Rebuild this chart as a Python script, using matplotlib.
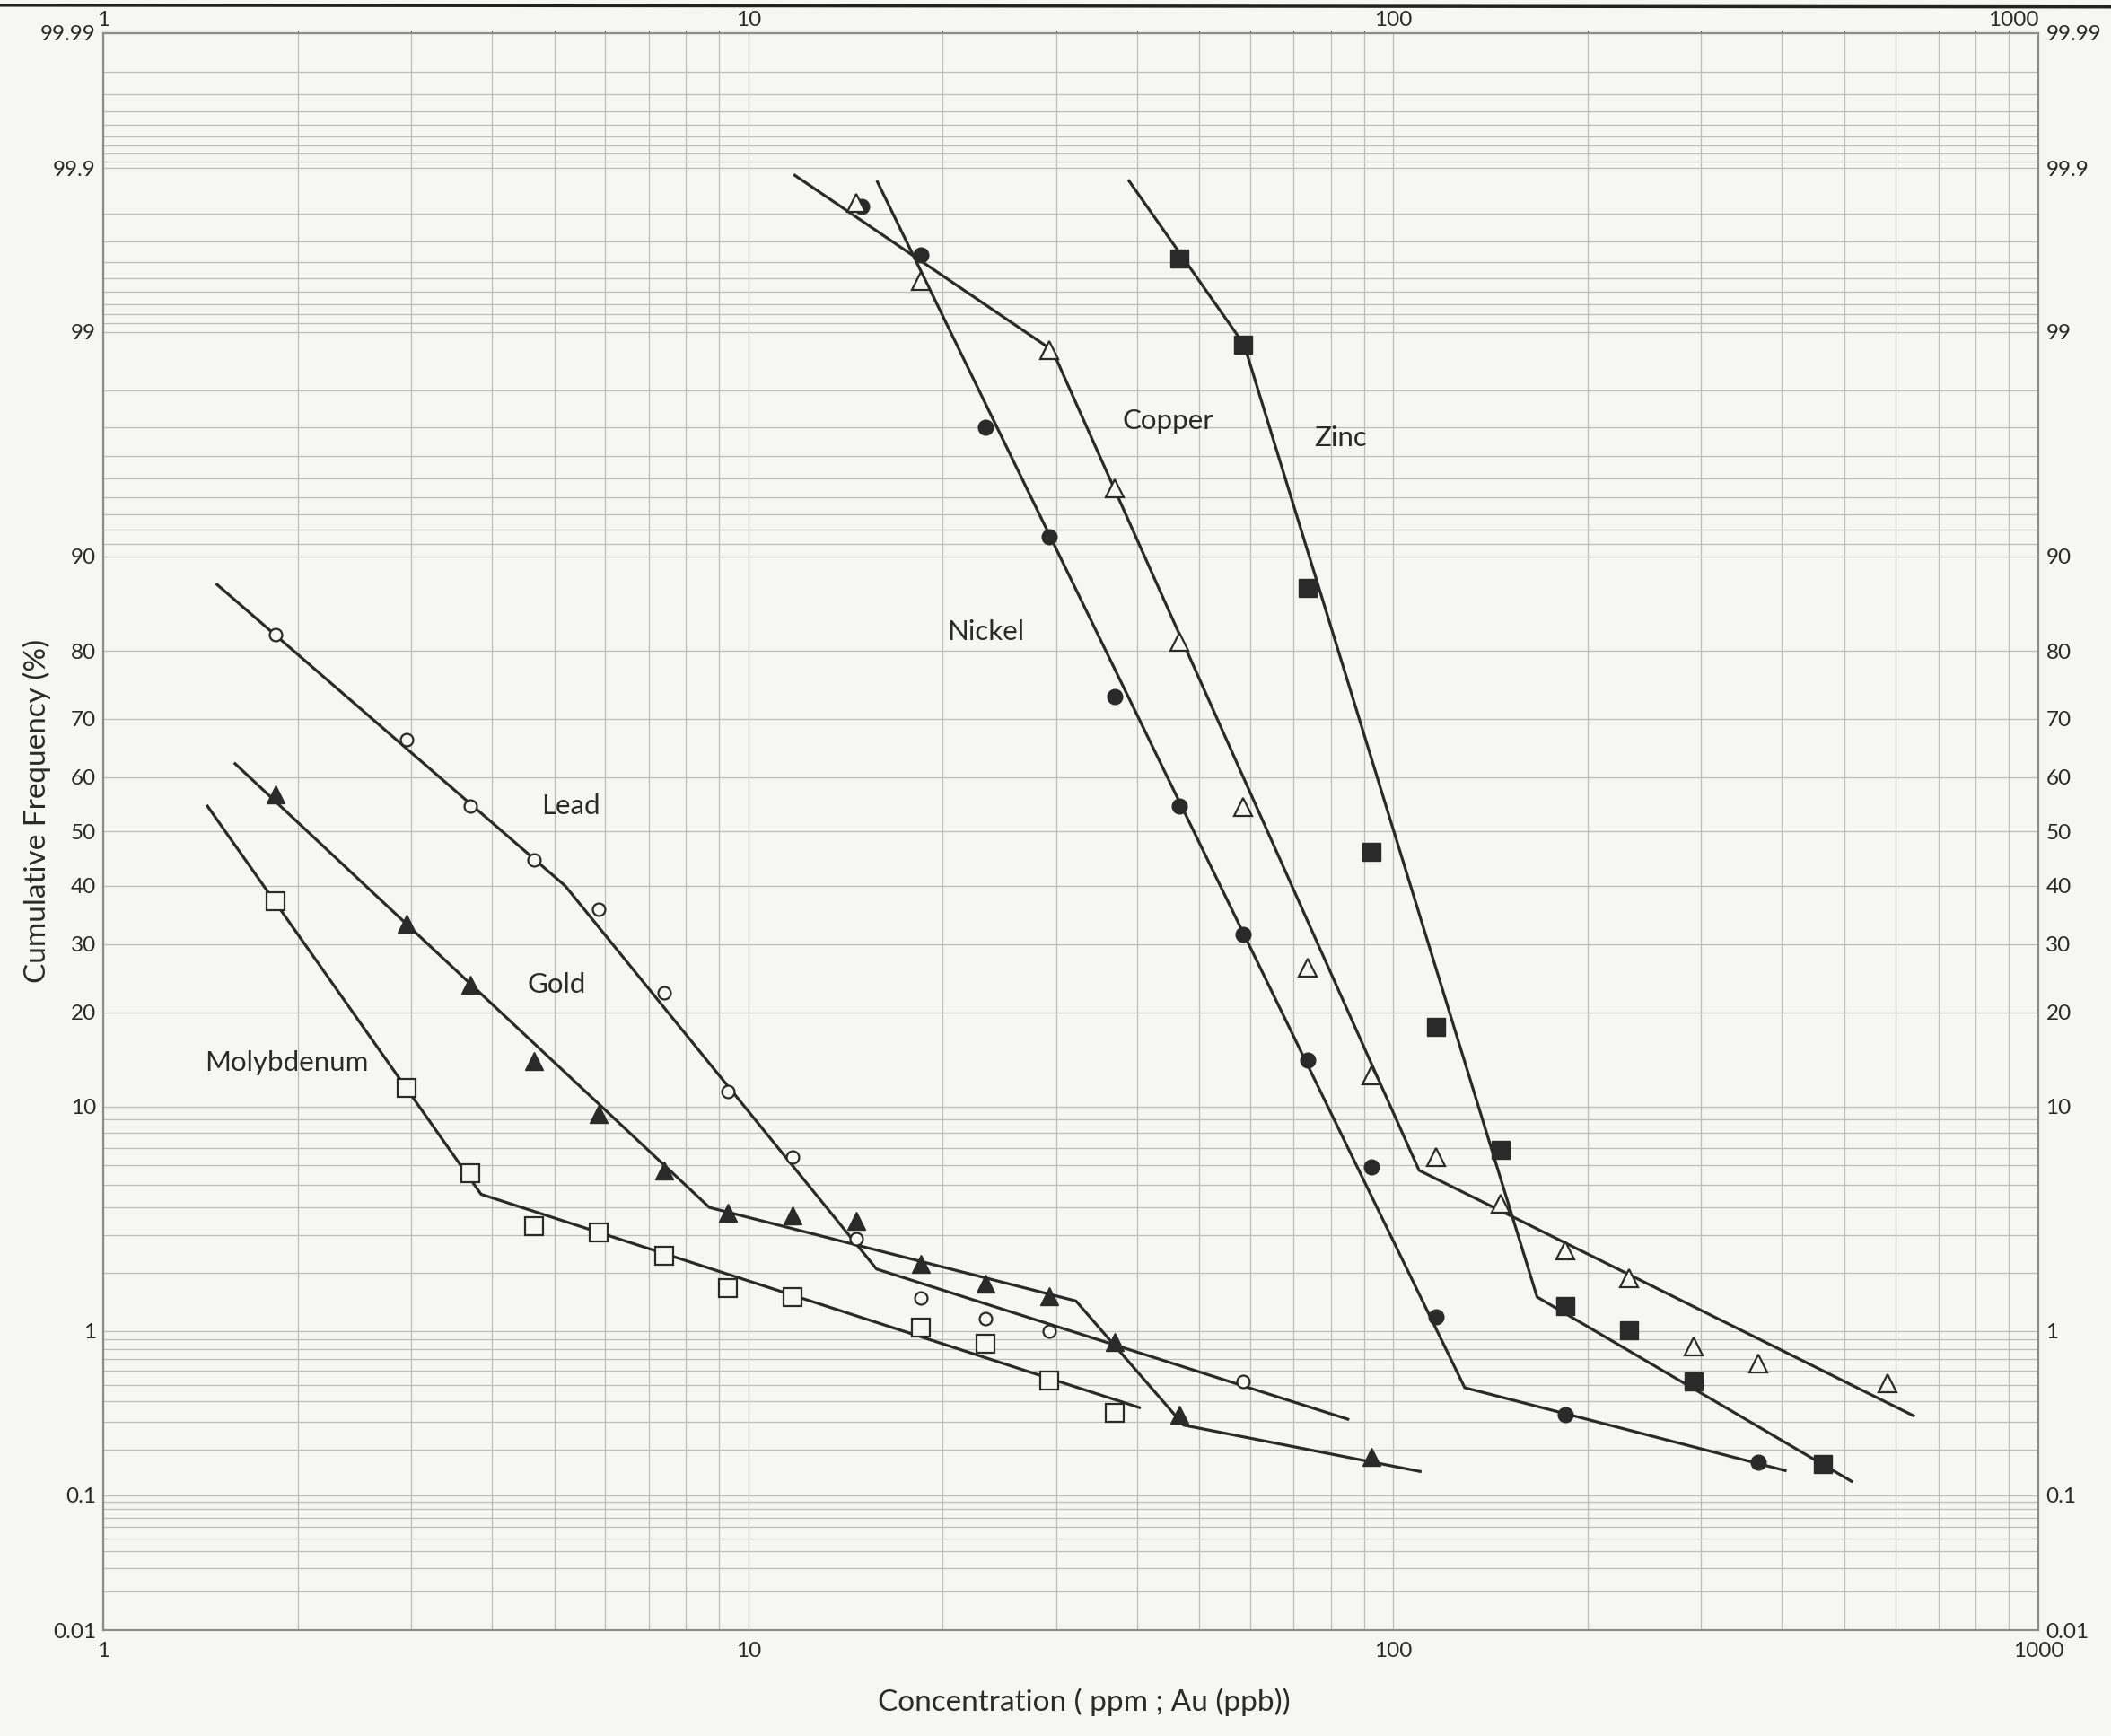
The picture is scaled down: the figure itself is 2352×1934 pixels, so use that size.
import math
import numpy as np
import matplotlib
matplotlib.use('Agg')
import matplotlib.pyplot as plt
from matplotlib.lines import Line2D

plt.rcParams['font.family'] = ['Lato', 'DejaVu Sans']

# values (x in ppm / ppb, y in cumulative %)
lead_x = [1.85, 2.95, 3.7, 4.65, 5.85, 7.4, 9.3, 11.7, 14.7, 18.5, 23.3, 29.3, 58.5]
lead_p = [82.1, 66.6, 54.7, 44.8, 35.9, 22.6, 11.3, 6.5, 2.9, 1.5, 1.17, 1.0, 0.52]
lead_fit_x = [1.5, 5.2, 15.8, 85]
lead_fit_p = [87.5, 40, 2.08, 0.31]

gold_x = [1.85, 2.95, 3.7, 4.65, 5.85, 7.4, 9.3, 11.7, 14.7, 18.5, 23.3, 29.3, 37, 46.5, 92.5]
gold_p = [56.9, 33.4, 23.8, 14.3, 9.4, 5.7, 3.8, 3.7, 3.5, 2.2, 1.76, 1.53, 0.87, 0.33, 0.18]
gold_fit_x = [1.6, 8.7, 32.2, 47.3, 110]
gold_fit_p = [62.4, 4.0, 1.44, 0.285, 0.144]

moly_x = [1.85, 2.95, 3.7, 4.65, 5.85, 7.4, 9.3, 11.7, 18.5, 23.3, 29.3, 37]
moly_p = [37.3, 11.6, 5.6, 3.3, 3.1, 2.41, 1.68, 1.51, 1.04, 0.85, 0.53, 0.34]
moly_fit_x = [1.45, 3.85, 40.4]
moly_fit_p = [54.7, 4.56, 0.365]

nickel_x = [15.0, 18.5, 23.3, 29.3, 37, 46.5, 58.5, 73.6, 92.5, 116.5, 184.5, 368]
nickel_p = [99.82, 99.64, 97.0, 91.5, 73.5, 54.7, 31.6, 14.4, 5.9, 1.19, 0.33, 0.165]
nickel_fit_x = [15.85, 129, 405]
nickel_fit_p = [99.876, 0.48, 0.146]

copper_x = [14.7, 18.5, 29.3, 37, 46.5, 58.5, 73.6, 92.5, 116.5, 146.5, 184.5, 232, 292, 368, 584]
copper_p = [99.83, 99.48, 98.75, 94.5, 81.1, 54.5, 26.3, 12.8, 6.5, 4.15, 2.56, 1.87, 0.82, 0.66, 0.51]
copper_fit_x = [11.8, 29.6, 109.6, 640]
copper_fit_p = [99.888, 98.75, 5.73, 0.326]

zinc_x = [46.5, 58.5, 73.6, 92.5, 116.5, 146.5, 184.5, 232, 292, 464]
zinc_p = [99.62, 98.83, 87.2, 46.3, 18.2, 6.9, 1.35, 1.01, 0.525, 0.162]
zinc_fit_x = [38.9, 58.7, 167, 513]
zinc_fit_p = [99.878, 98.83, 1.51, 0.124]

label_names = ['Lead', 'Gold', 'Molybdenum', 'Nickel', 'Copper', 'Zinc']
label_x = [5.31, 5.04, 1.92, 23.3, 44.7, 82.9]
label_p = [54.7, 23.8, 14.1, 82.4, 97.2, 96.65]

ytick_vals = [0.01, 0.1, 1, 10, 20, 30, 40, 50, 60, 70, 80, 90, 99, 99.9, 99.99]
ytick_text = ['0.01', '0.1', '1', '10', '20', '30', '40', '50', '60', '70', '80', '90', '99', '99.9', '99.99']
yminor_vals = ([0.02, 0.03, 0.04, 0.05, 0.06, 0.07, 0.08, 0.09]
               + [0.2, 0.3, 0.4, 0.5, 0.6, 0.7, 0.8, 0.9]
               + [2, 3, 4, 5, 6, 7, 8, 9]
               + [91, 92, 93, 94, 95, 96, 97, 98]
               + [99.1, 99.2, 99.3, 99.4, 99.5, 99.6, 99.7, 99.8]
               + [99.91, 99.92, 99.93, 99.94, 99.95, 99.96, 99.97, 99.98])
xtick_vals = [1, 10, 100, 1000]
xtick_text = ['1', '10', '100', '1000']


# normal probability scale (Acklam's inverse normal approximation)
A = [-3.969683028665376e+01, 2.209460984245205e+02, -2.759285104469687e+02,
     1.383577518672690e+02, -3.066479806614716e+01, 2.506628277459239e+00]
B = [-5.447609879822406e+01, 1.615858368580409e+02, -1.556989798598866e+02,
     6.680131188771972e+01, -1.328068155288572e+01]
C = [-7.784894002430293e-03, -3.223964580411365e-01, -2.400758277161838e+00,
     -2.549732539343734e+00, 4.374664141464968e+00, 2.938163982698783e+00]
D = [7.784695709041462e-03, 3.224671290700398e-01, 2.445134137142996e+00,
     3.754408661907416e+00]


def ppf(q):
    q = np.clip(np.asarray(q, dtype=float), 1e-12, 1 - 1e-12)
    out = np.zeros_like(q)
    plow = 0.02425
    lo = q < plow
    hi = q > 1 - plow
    mid = ~(lo | hi)
    t = np.sqrt(-2 * np.log(q[lo]))
    out[lo] = (((((C[0]*t+C[1])*t+C[2])*t+C[3])*t+C[4])*t+C[5]) / ((((D[0]*t+D[1])*t+D[2])*t+D[3])*t+1)
    t = np.sqrt(-2 * np.log(1 - q[hi]))
    out[hi] = -(((((C[0]*t+C[1])*t+C[2])*t+C[3])*t+C[4])*t+C[5]) / ((((D[0]*t+D[1])*t+D[2])*t+D[3])*t+1)
    r = q[mid] - 0.5
    s = r * r
    out[mid] = (((((A[0]*s+A[1])*s+A[2])*s+A[3])*s+A[4])*s+A[5])*r / (((((B[0]*s+B[1])*s+B[2])*s+B[3])*s+B[4])*s+1)
    return out


_erf = np.vectorize(math.erf)


def forward(p):
    return ppf(np.asarray(p, dtype=float) / 100.0)


def inverse(z):
    return 50.0 * (1 + _erf(np.asarray(z, dtype=float) / math.sqrt(2)))


paper = '#f6f6f4'
ink = '#2a2a2a'
grid_col = '#bcbcbc'

fig = plt.figure(figsize=(23.52, 19.34), dpi=100, facecolor=paper)
ax = fig.add_axes([0.049, 0.061, 0.9166, 0.920])
ax.set_facecolor(paper)
ax.set_xscale('log')
ax.set_yscale('function', functions=(forward, inverse))
ax.set_xlim(1, 1000)
ax.set_ylim(0.01, 99.99)

ax.set_yticks(ytick_vals)
ax.set_yticklabels(ytick_text)
ax.set_yticks(yminor_vals, minor=True)
ax.set_xticks(xtick_vals)
ax.set_xticklabels(xtick_text)
ax.set_xticks([m * d for d in [1, 10, 100] for m in range(2, 10)], minor=True)
ax.xaxis.set_minor_formatter(plt.NullFormatter())
ax.yaxis.set_minor_formatter(plt.NullFormatter())

ax.grid(True, which='both', color=grid_col, lw=0.9)
ax.set_axisbelow(True)
ax.tick_params(which='both', length=0, labelsize=17.5, colors='#2a2a2a', labelright=True)
ax.tick_params(axis='y', pad=6)
ax.tick_params(axis='x', pad=9)
for sp in ax.spines.values():
    sp.set_color('#8c8c8c')
    sp.set_linewidth(1.6)

# same decade labels along the top edge, closer to the frame
top = ax.secondary_xaxis('top')
top.set_xticks(xtick_vals)
top.set_xticklabels(xtick_text)
top.tick_params(length=0, labelsize=17.5, colors='#2a2a2a', pad=3)
top.spines['top'].set_visible(False)
top.get_xticklabels()[-1].set_ha('right')

# fitted segments
for fx, fp in [(lead_fit_x, lead_fit_p), (gold_fit_x, gold_fit_p), (moly_fit_x, moly_fit_p),
               (nickel_fit_x, nickel_fit_p), (copper_fit_x, copper_fit_p), (zinc_fit_x, zinc_fit_p)]:
    ax.plot(fx, fp, color=ink, lw=2.3, zorder=3)

# observed points
ax.plot(lead_x, lead_p, 'o', ms=10, mfc=paper, mec=ink, mew=1.6, zorder=4)
ax.plot(gold_x, gold_p, '^', ms=14.5, mfc=ink, mec=ink, zorder=4)
ax.plot(moly_x, moly_p, 's', ms=14, mfc=paper, mec=ink, mew=1.6, zorder=4)
ax.plot(nickel_x, nickel_p, 'o', ms=12, mfc=ink, mec=ink, zorder=4)
ax.plot(copper_x, copper_p, '^', ms=15, mfc=paper, mec=ink, mew=1.6, zorder=4)
ax.plot(zinc_x, zinc_p, 's', ms=15, mfc=ink, mec=ink, zorder=4)

for name, lx, lp in zip(label_names, label_x, label_p):
    ax.text(lx, lp, name, fontsize=22.5, color=ink, ha='center', va='center', zorder=5)

ax.set_ylabel('Cumulative Frequency (%)', fontsize=24, color=ink)
ax.yaxis.set_label_coords(-0.027, 0.513)
ax.set_xlabel('Concentration ( ppm ; Au (ppb))', fontsize=24, color=ink)
ax.xaxis.set_label_coords(0.507, -0.036)

# dark paper edge across the top of the scan
fig.add_artist(Line2D([0, 1], [0.997, 0.996], transform=fig.transFigure, color='#222222', lw=2.5))

fig.savefig('out.png', dpi=100, facecolor=paper)
